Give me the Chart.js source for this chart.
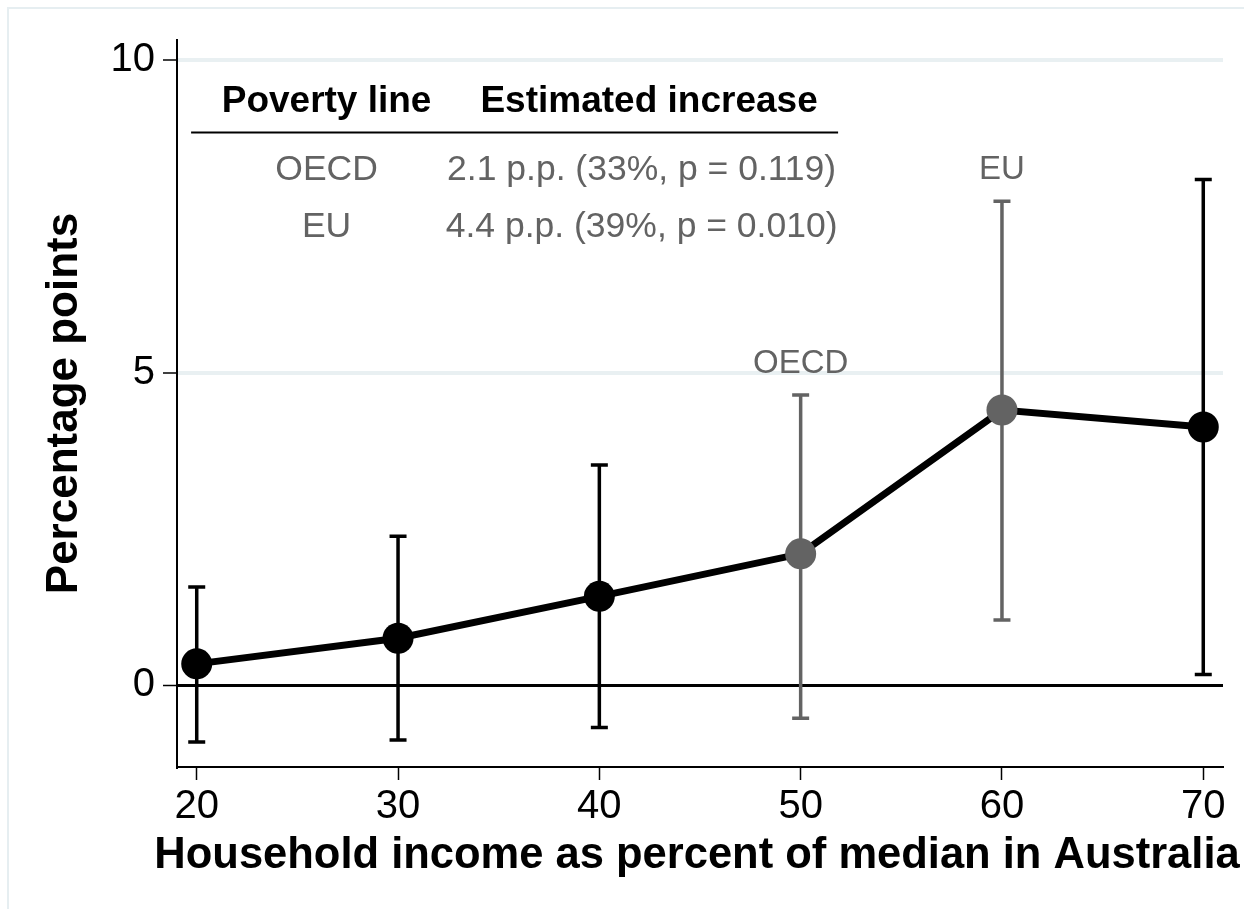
<!DOCTYPE html>
<html>
<head>
<meta charset="utf-8">
<title>Poverty gap by income threshold</title>
<script src="https://cdn.jsdelivr.net/npm/chart.js@4.4.1/dist/chart.umd.min.js"></script>
<style>
  html, body { margin: 0; padding: 0; background: #ffffff; }
  #wrap { width: 1244px; height: 909px; position: relative; }
</style>
</head>
<body>
<div id="wrap"><canvas id="chart" width="1244" height="909"></canvas></div>
<script>
// Income threshold (% of median household income) and the estimated change in
// the share of households below it, with 95% confidence bounds.
const incomeShare = [20, 30, 40, 50, 60, 70];
const estimate    = [0.34, 0.75, 1.42, 2.1, 4.4, 4.13];
const ciLower     = [-0.91, -0.88, -0.68, -0.53, 1.04, 0.17];
const ciUpper     = [1.57, 2.38, 3.52, 4.64, 7.74, 8.09];
const povertyLine = ['', '', '', 'OECD', 'EU', ''];

// Summary table rows
const tableLines    = ['OECD', 'EU'];
const tableRelative = [33, 39];
const tablePValue   = ['0.119', '0.010'];
const tableHeaders  = ['Poverty line', 'Estimated increase'];

// Axis ticks and titles
const xTickValues = [20, 30, 40, 50, 60, 70];
const yTickValues = [0, 5, 10];
const xTitle = 'Household income as percent of median in Australia';
const yTitle = 'Percentage points';

const FONT = "'Liberation Sans', Arial, Helvetica, sans-serif";
const BLACK = '#000000';
const GREY = '#636363';
const GRID = '#e9f0f2';

const colorAt = i => (povertyLine[i] ? GREY : BLACK);

// Page frame, error bars, line labels, summary table and x-axis title
const annotations = {
  id: 'annotations',
  beforeDraw(chart) {
    const ctx = chart.ctx;
    ctx.save();
    ctx.fillStyle = '#ffffff';
    ctx.fillRect(0, 0, chart.width, chart.height);
    ctx.strokeStyle = '#e6eef1';
    ctx.lineWidth = 2;
    ctx.beginPath();
    ctx.moveTo(8, chart.height + 10);
    ctx.lineTo(8, 8);
    ctx.lineTo(chart.width + 10, 8);
    ctx.stroke();
    ctx.restore();
  },
  beforeDatasetsDraw(chart) {
    const { ctx, scales: { x, y } } = chart;
    ctx.save();
    ctx.lineWidth = 3.5;
    ctx.lineCap = 'butt';
    incomeShare.forEach((v, i) => {
      const px = x.getPixelForValue(v);
      const top = y.getPixelForValue(ciUpper[i]);
      const bot = y.getPixelForValue(ciLower[i]);
      ctx.strokeStyle = colorAt(i);
      ctx.beginPath();
      ctx.moveTo(px, top); ctx.lineTo(px, bot);
      ctx.moveTo(px - 8.5, top); ctx.lineTo(px + 8.5, top);
      ctx.moveTo(px - 8.5, bot); ctx.lineTo(px + 8.5, bot);
      ctx.stroke();
    });
    ctx.restore();
  },
  afterDatasetsDraw(chart) {
    const { ctx, chartArea, scales: { x, y } } = chart;
    ctx.save();
    // labels above the upper bound of each poverty line
    ctx.fillStyle = GREY;
    ctx.font = `33px ${FONT}`;
    ctx.textAlign = 'center';
    ctx.textBaseline = 'alphabetic';
    incomeShare.forEach((v, i) => {
      if (!povertyLine[i]) return;
      ctx.fillText(povertyLine[i], x.getPixelForValue(v), y.getPixelForValue(ciUpper[i]) - 22);
    });

    // summary table
    const col1 = x.getPixelForValue(26.45);
    ctx.fillStyle = BLACK;
    ctx.font = `bold 37px ${FONT}`;
    const headY = y.getPixelForValue(9.17);
    ctx.fillText(tableHeaders[0], col1, headY);
    ctx.fillText(tableHeaders[1], x.getPixelForValue(42.47), headY);

    ctx.strokeStyle = BLACK;
    ctx.lineWidth = 2;
    const ruleY = y.getPixelForValue(8.84);
    ctx.beginPath();
    ctx.moveTo(x.getPixelForValue(19.72), ruleY);
    ctx.lineTo(x.getPixelForValue(51.86), ruleY);
    ctx.stroke();

    ctx.fillStyle = GREY;
    ctx.font = `35.5px ${FONT}`;
    const rowY = [8.08, 7.17];
    const col2 = x.getPixelForValue(42.1);
    tableLines.forEach((name, r) => {
      const i = povertyLine.indexOf(name);
      const txt = `${estimate[i].toFixed(1)} p.p. (${tableRelative[r]}%, p = ${tablePValue[r]})`;
      const py = y.getPixelForValue(rowY[r]);
      ctx.fillText(name, col1, py);
      ctx.fillText(txt, col2, py);
    });

    // x-axis title, allowed to run wider than the plot area
    ctx.fillStyle = BLACK;
    ctx.font = `bold 43.5px ${FONT}`;
    ctx.fillText(xTitle, (chartArea.left + chartArea.right) / 2 - 3, x.bottom - 41);
    ctx.restore();
  }
};

new Chart(document.getElementById('chart'), {
  type: 'line',
  data: {
    datasets: [{
      data: incomeShare.map((v, i) => ({ x: v, y: estimate[i] })),
      borderColor: BLACK,
      borderWidth: 7,
      tension: 0,
      pointRadius: 15.5,
      pointBorderWidth: 0,
      pointBackgroundColor: incomeShare.map((v, i) => colorAt(i)),
      pointHoverRadius: 15.5
    }]
  },
  options: {
    responsive: false,
    animation: false,
    devicePixelRatio: 1,
    events: [],
    layout: { padding: { top: 40, right: 21, bottom: 0, left: 0 } },
    plugins: { legend: { display: false }, tooltip: { enabled: false } },
    scales: {
      x: {
        type: 'linear',
        min: 19.02,
        max: 70.98,
        afterBuildTicks: s => { s.ticks = xTickValues.map(v => ({ value: v })); },
        afterFit: s => { s.height = 142; },
        grid: { drawOnChartArea: false, drawTicks: true, tickLength: 13, tickColor: BLACK, tickWidth: 1.5 },
        border: { display: true, color: BLACK, width: 2 },
        ticks: { color: BLACK, padding: 7, maxRotation: 0, autoSkip: false, font: { family: FONT, size: 40, lineHeight: 1 } },
        title: { display: false }
      },
      y: {
        type: 'linear',
        min: -1.31,
        max: 10.32,
        afterBuildTicks: s => { s.ticks = yTickValues.map(v => ({ value: v })); },
        afterFit: s => { s.width = 177; },
        grid: {
          color: c => (c.tick && c.tick.value === 0 ? BLACK : GRID),
          lineWidth: c => (c.tick && c.tick.value === 0 ? 3 : 4),
          drawTicks: true, tickLength: 14, tickColor: BLACK, tickWidth: 1.5
        },
        border: { display: true, color: BLACK, width: 2 },
        ticks: { color: BLACK, padding: 8, font: { family: FONT, size: 40, lineHeight: 1 } },
        title: { display: true, text: yTitle, color: BLACK, padding: { top: 43, bottom: 0 }, font: { family: FONT, size: 44, weight: 'bold', lineHeight: 1 } }
      }
    }
  },
  plugins: [annotations]
});
</script>
</body>
</html>
